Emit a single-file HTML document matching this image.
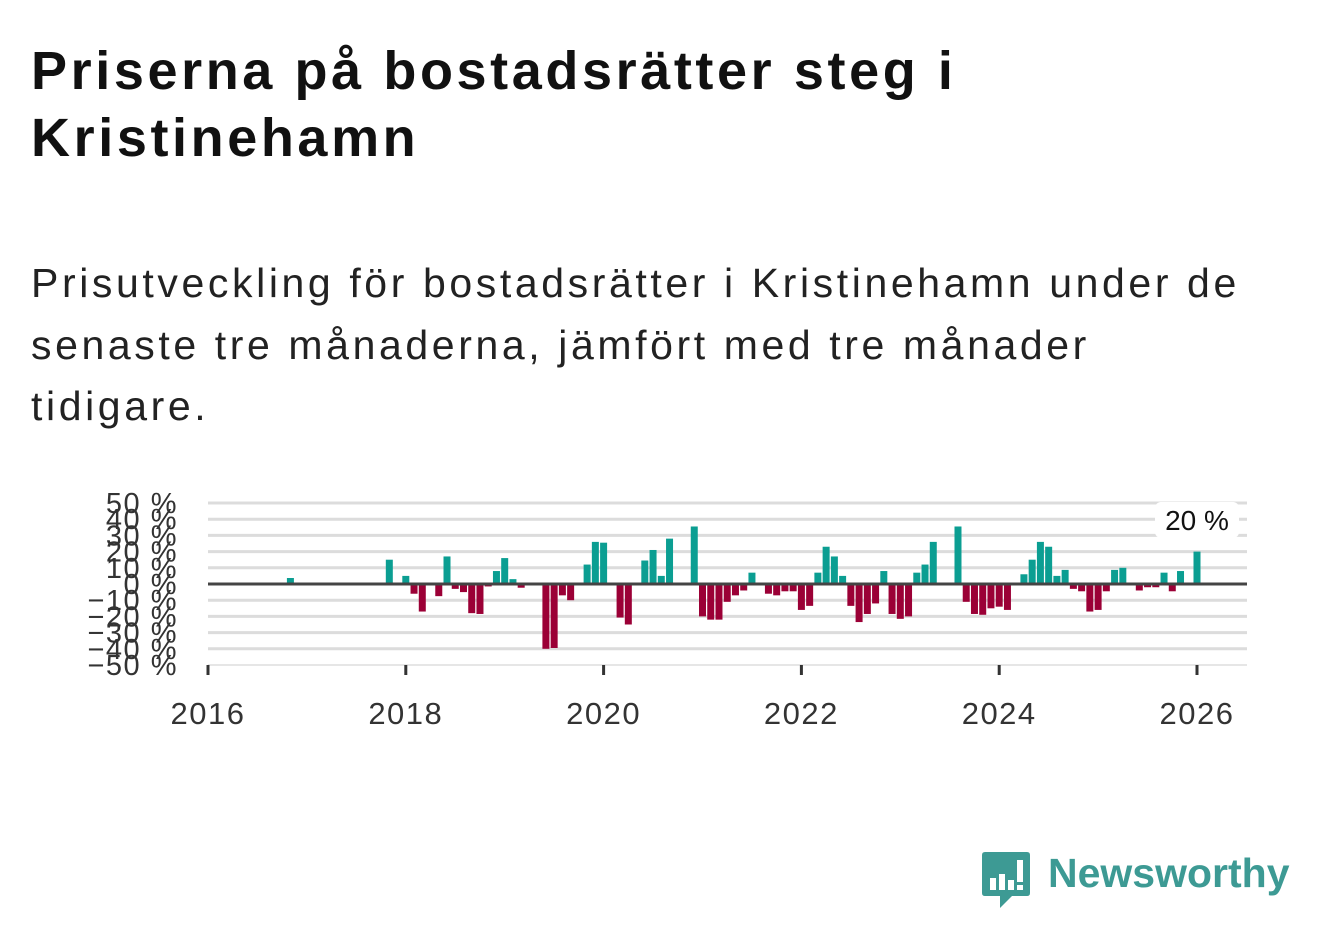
<!DOCTYPE html>
<html><head><meta charset="utf-8">
<style>
html,body{margin:0;padding:0;background:#fff;}
body{width:1322px;height:939px;overflow:hidden;position:relative;font-family:"Liberation Sans","DejaVu Sans",sans-serif;}
#title{position:absolute;left:31px;top:38px;margin:0;font-size:54px;line-height:67px;font-weight:bold;color:#111;width:1250px;letter-spacing:3.6px;white-space:nowrap;}
#subtitle{position:absolute;left:31px;top:253px;margin:0;font-size:41px;line-height:61.5px;color:#222;width:1280px;letter-spacing:3.6px;white-space:nowrap;}
svg{position:absolute;left:0;top:0;}
</style></head>
<body>
<h1 id="title">Priserna på bostadsrätter steg i<br>Kristinehamn</h1>
<p id="subtitle">Prisutveckling för bostadsrätter i Kristinehamn under de<br>senaste tre månaderna, jämfört med tre månader<br>tidigare.</p>
<svg id="chart" width="1322" height="939"></svg>
<div style="position:absolute;left:982px;top:850px;width:310px;height:60px;">
<svg width="50" height="60" style="left:0;top:0">
<path d="M3,2 H45 Q48,2 48,5 V43 Q48,46 45,46 H30 L18,58 L18,46 H3 Q0,46 0,43 V5 Q0,2 3,2 Z" fill="#3d9a94"/>
<rect x="8" y="28" width="6" height="12" fill="#fff"/><rect x="17" y="24" width="6" height="16" fill="#fff"/><rect x="26" y="30" width="6" height="10" fill="#fff"/><rect x="35" y="10" width="6" height="22" fill="#fff"/><rect x="35" y="35" width="6" height="5" fill="#fff"/>
</svg>
<span style="position:absolute;left:66px;top:0px;font-size:41px;font-weight:bold;color:#3d9a94;">Newsworthy</span>
</div>
<script>
const months = [10,22,24,25,26,28,29,30,31,32,33,34,35,36,37,38,41,42,43,44,46,47,48,50,51,53,54,55,56,59,60,61,62,63,64,65,66,68,69,70,71,72,73,74,75,76,77,78,79,80,81,82,83,84,85,86,87,88,91,92,93,94,95,96,97,99,100,101,102,103,104,105,106,107,108,109,110,111,113,114,115,116,117,118,120];
const values = [3.7,15,5,-6,-17,-7.5,17,-3,-5,-18,-18.5,-1.5,8,16,3,-2.3,-40,-39.5,-7,-10,12,26,25.5,-20.7,-25,14.5,21,5,28,35.5,-20,-22,-22,-11,-7,-4,7,-6,-7,-4.5,-4.5,-16,-13.5,7,23,17,5,-13.5,-23.5,-18.5,-12,8,-18.5,-21.5,-20,7,12,26,35.5,-11,-18.5,-19,-15,-14,-16,6,15,26,23,5,8.7,-3,-4.5,-17,-16,-4.5,8.7,10,-4,-2,-2,7,-4.5,8,20];
const yTicks = [50,40,30,20,10,0,-10,-20,-30,-40,-50];
const xTicks = [2016,2018,2020,2022,2024,2026];
const NS="http://www.w3.org/2000/svg";
const svg=document.getElementById('chart');
const X0=208, PX_PER_MONTH=(1197-208)/120;
const xm=m=>X0+m*PX_PER_MONTH;
const xy=yr=>xm((yr-2016)*12);
const Y0=584, PX_PER_PCT=81/50;
const y=v=>Y0-v*PX_PER_PCT;
function mk(tag,attrs){const e=document.createElementNS(NS,tag);for(const k in attrs)e.setAttribute(k,attrs[k]);svg.appendChild(e);return e;}
yTicks.forEach(t=>{
  if(t!==0&&t!==-50){const g=mk('line',{x1:208,x2:1247,y1:y(t),y2:y(t),stroke:'#dcdcdc','stroke-width':3});
  
  }
  const l=mk('text',{x:178,y:y(t)+10,'text-anchor':'end','font-size':29,'letter-spacing':1.5,fill:'#333','font-family':'Liberation Sans, sans-serif'});
  l.textContent=(t<0?'\u2212'+(-t):t)+' %';
  
  
});
const ax=mk('line',{x1:208,x2:1247,y1:y(-50),y2:y(-50),stroke:'#ddd','stroke-width':1.5});


xTicks.forEach(t=>{
  const tk=mk('line',{x1:xy(t),x2:xy(t),y1:y(-50),y2:y(-50)+10,stroke:'#333','stroke-width':3});
  
  
  const l=mk('text',{x:xy(t),y:724,'text-anchor':'middle','font-size':31,'letter-spacing':1.5,fill:'#333','font-family':'Liberation Sans, sans-serif'});
  l.textContent=t;
  
  
});
months.forEach((m,i)=>{
  const v=values[i];
  const b=mk('rect',{x:xm(m)-3.5,width:7,y:Math.min(y(v),Y0),height:Math.abs(y(v)-Y0),fill:v>=0?'#0b9e92':'#9b0036'});
  
  
});
const zl=mk('line',{x1:208,x2:1247,y1:Y0,y2:Y0,stroke:'#444','stroke-width':3});


const lastM=months[months.length-1], lastV=values[values.length-1];
const bg=mk('rect',{x:xm(lastM)-42,y:502,width:84,height:36,fill:'#fff',rx:6});


const lv=mk('text',{x:xm(lastM),y:530,'text-anchor':'middle','font-size':28,fill:'#111','font-family':'Liberation Sans, sans-serif'});
lv.textContent=lastV+' %';


</script>
</body></html>
